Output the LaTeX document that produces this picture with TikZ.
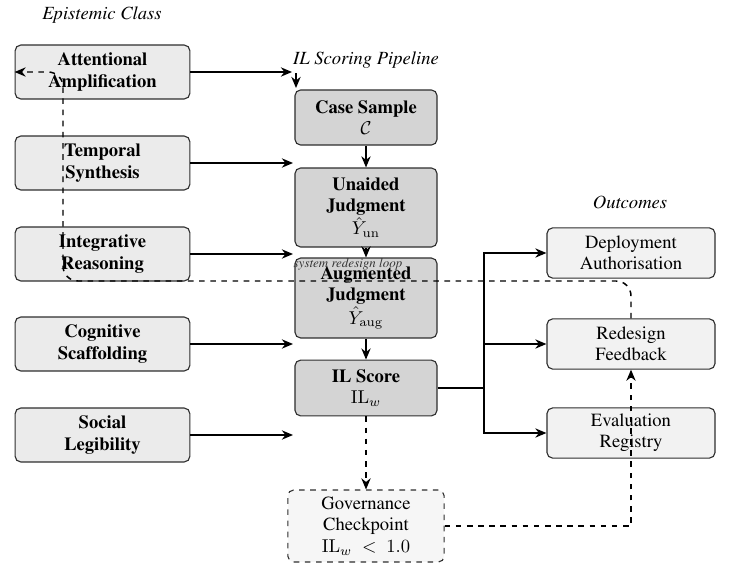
\documentclass[tikz,border=0pt]{standalone}
\usepackage[T1]{fontenc}
\usepackage{times}
\usetikzlibrary{arrows.meta}
\definecolor{bdr}{HTML}{2E2E2E}
\definecolor{lfill}{HTML}{EBEBEB}
\definecolor{cfill}{HTML}{D4D4D4}
\definecolor{ofill}{HTML}{F2F2F2}
\definecolor{gfill}{HTML}{F6F6F6}
\tikzset{
  box/.style={draw=bdr, semithick, rounded corners=3pt, align=center, inner sep=1pt, font=\fontsize{10}{11.5}\selectfont},
  epbox/.style={box, fill=lfill, minimum width=94pt, minimum height=29pt, font=\fontsize{10}{11.5}\selectfont\bfseries},
  pipebox/.style={box, fill=cfill, minimum width=76.4pt, font=\fontsize{10}{11.5}\selectfont\bfseries},
  outbox/.style={box, fill=ofill, minimum width=90.4pt, minimum height=27pt},
  govbox/.style={box, fill=gfill, dashed, minimum width=84pt, minimum height=38.7pt},
  hdr/.style={font=\fontsize{10}{12}\selectfont\itshape},
  conn/.style={thick, -{Stealth[length=6pt,width=5pt]}},
  dconn/.style={thick, dashed, -{Stealth[length=6pt,width=5pt]}},
}
\begin{document}
\begin{tikzpicture}[x=0.538pt, y=-0.538pt]
\useasboundingbox (0,0) rectangle (735,568);
% headers
\node[hdr] (h1) at (102,15) {Epistemic Class};
\node[hdr] (h2) at (366,60) {IL Scoring Pipeline};
\node[hdr] (h3) at (630,202) {Outcomes};
% epistemic boxes
\node[epbox] (attn) at (102.5,72) {Attentional\\Amplification};
\node[epbox] (temp) at (102.5,163) {Temporal\\Synthesis};
\node[epbox] (integ) at (102.5,254) {Integrative\\Reasoning};
\node[epbox] (cogn) at (102.5,344) {Cognitive\\Scaffolding};
\node[epbox] (soc) at (102.5,435) {Social\\Legibility};
% pipeline
\node[pipebox, minimum height=29.6pt] (cs) at (366,117.5) {Case Sample\\\mdseries$\mathcal{C}$};
\node[pipebox, minimum height=42.5pt] (un) at (366,207.5) {Unaided\\Judgment\\\mdseries$\hat{Y}_{\mathrm{un}}$};
\node[pipebox, minimum height=43pt] (aug) at (366,298) {Augmented\\Judgment\\\mdseries$\hat{Y}_{\mathrm{aug}}$};
\node[pipebox, minimum height=30pt] (il) at (366,388) {IL Score\\\mdseries$\mathrm{IL}_w$};
% outcomes
\node[outbox] (dep) at (631,253) {Deployment\\Authorisation};
\node[outbox] (red) at (631,344) {Redesign\\Feedback};
\node[outbox] (eva) at (631,433) {Evaluation\\Registry};
% governance
\node[govbox] (gov) at (366,526) {Governance\\Checkpoint\\$\mathrm{IL}_w\ <\ 1.0$};
% input coordinates
\coordinate (in1) at (292,72);
\coordinate (in2) at (293,163);
\coordinate (in3) at (293,254);
\coordinate (in4) at (293,344);
\coordinate (in5) at (293,435);
\coordinate (tk) at (296,73);
\coordinate (tkend) at (296,88);
\draw[conn] (attn) -- (in1);
\draw[conn] (temp) -- (in2);
\draw[conn] (integ) -- (in3);
\draw[conn] (cogn) -- (in4);
\draw[conn] (soc) -- (in5);
\draw[conn] (tk) -- (tkend);
% pipeline flow
\draw[conn] (cs) -- (un);
\draw[conn] (un) -- (aug);
\draw[conn] (aug) -- (il);
\draw[dconn] (il) -- (gov);
% outcomes branching
\coordinate (br) at (484,388);
\draw[thick] (il.east) -- (br);
\draw[conn] (br) |- (dep.west);
\draw[conn] (br) |- (red.west);
\draw[conn] (br) |- (eva.west);
% governance to redesign
\draw[dconn] (gov.east) -| (red.south);
% redesign loop
\coordinate (lpL) at (63,281);
\draw[dconn, rounded corners=8pt] (red.north) |- (lpL) |- (attn.west);
\node[font=\fontsize{7}{8}\selectfont\itshape, text=black!80] (lbl) at (348,264) {system redesign loop};
\end{tikzpicture}
\end{document}
